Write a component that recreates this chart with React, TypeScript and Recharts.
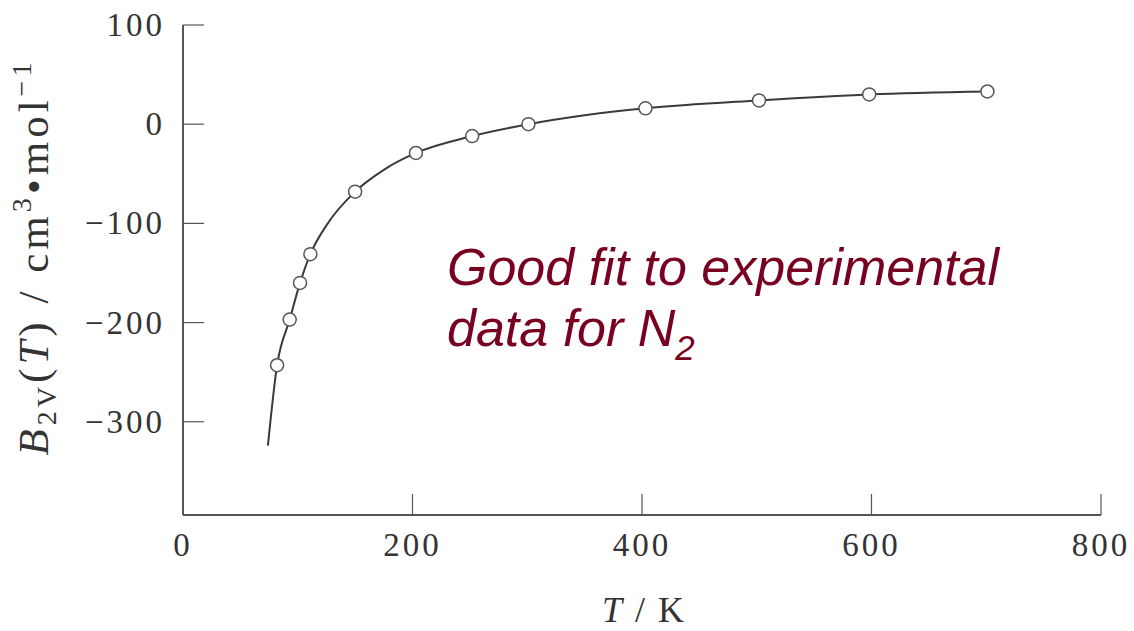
import React from "react";
import { ComposedChart, Line, Scatter, XAxis, YAxis } from "recharts";

// fitted curve
const fitT = [74, 82, 93, 102, 111, 125, 150, 175, 203, 252, 301, 350, 403, 502, 598, 701];
const fitB = [-324, -243, -197, -160, -131, -102, -68, -46, -29, -12, 0, 9, 16, 24, 30, 33];

// experimental points for N2
const expT = [82, 93, 102, 111, 150, 203, 252, 301, 403, 502, 598, 701];
const expB = [-243, -197, -160, -131, -68, -29, -12, 0, 16, 24, 30, 33];

const xTicks = [0, 200, 400, 600, 800];
const yTicks = [100, 0, -100, -200, -300];

const fitData = fitT.map((T, i) => ({ T, B: fitB[i] }));
const expData = expT.map((T, i) => ({ T, B: expB[i] }));

const SERIF = "'Liberation Serif', 'DejaVu Serif', serif";
const SANS = "'Liberation Sans', Arial, sans-serif";
const AXIS = "#555";
const TEXT = "#333";

function YTick(props: any) {
  const { x, y, payload } = props;
  const label = payload.value < 0 ? `\u2212${-payload.value}` : `${payload.value}`;
  return (
    <g>
      <line x1={x + 18} x2={x + 39} y1={y} y2={y} stroke={AXIS} strokeWidth={1.2} />
      <text x={x} y={y + 11} textAnchor="end" fontFamily={SERIF} fontSize={33} fill={TEXT} letterSpacing={3}>
        {label}
      </text>
    </g>
  );
}

function XTick(props: any) {
  const { x, y, payload } = props;
  return (
    <g>
      {payload.value !== 0 && (
        <line x1={x} x2={x} y1={y - 18} y2={y - 39} stroke={AXIS} strokeWidth={1.2} />
      )}
      <text x={x} y={y + 23} textAnchor="middle" fontFamily={SERIF} fontSize={33} fill={TEXT} letterSpacing={3}>
        {payload.value}
      </text>
    </g>
  );
}

const dot = (props: any) => (
  <circle cx={props.cx} cy={props.cy} r={6.5} fill="#fff" stroke="#555" strokeWidth={1.5} />
);

export default function App() {
  return (
    <div style={{ position: "absolute", left: 0, top: 0, width: 1134, height: 631, background: "#fff" }}>
      <ComposedChart width={1134} height={631} margin={{ top: 25, right: 33, left: 103, bottom: 76 }}>
        <XAxis
          type="number"
          dataKey="T"
          domain={[0, 800]}
          ticks={xTicks}
          height={40}
          tickLine={false}
          tickSize={0}
          tickMargin={18}
          tick={<XTick />}
          axisLine={{ stroke: AXIS, strokeWidth: 2 }}
          allowDataOverflow
        />
        <YAxis
          type="number"
          dataKey="B"
          domain={[-394, 100]}
          ticks={yTicks}
          width={80}
          tickLine={false}
          tickSize={0}
          tickMargin={18}
          tick={<YTick />}
          axisLine={{ stroke: AXIS, strokeWidth: 2 }}
          allowDataOverflow
        />
        <Line
          data={fitData}
          dataKey="B"
          type="monotone"
          stroke="#3a3a3a"
          strokeWidth={2}
          dot={false}
          activeDot={false}
          isAnimationActive={false}
        />
        <Scatter data={expData} dataKey="B" shape={dot} isAnimationActive={false} />
      </ComposedChart>
      <svg width={1134} height={631} style={{ position: "absolute", left: 0, top: 0, pointerEvents: "none" }}>
        <text
          x={48}
          y={257}
          transform="rotate(-90 48 257)"
          textAnchor="middle"
          fontFamily={SERIF}
          fontSize={43}
          fill={TEXT}
          letterSpacing={4}
        >
          <tspan fontStyle="italic">B</tspan>
          <tspan fontSize={28} dy={8}>2V</tspan>
          <tspan dy={-8}>(</tspan>
          <tspan fontStyle="italic">T</tspan>
          <tspan>) / cm</tspan>
          <tspan fontSize={28} dy={-17}>3</tspan>
          <tspan dy={17}>•mol</tspan>
          <tspan fontSize={28} dy={-17}>−1</tspan>
        </text>
        <text x={644} y={622} textAnchor="middle" fontFamily={SERIF} fontSize={36} fill={TEXT} letterSpacing={2}>
          <tspan fontStyle="italic">T</tspan>
          <tspan> / K</tspan>
        </text>
        <text x={447} y={285} fontFamily={SANS} fontStyle="italic" fontSize={52} fill="#780020">
          Good fit to experimental
        </text>
        <text x={447} y={346} fontFamily={SANS} fontStyle="italic" fontSize={52} fill="#780020">
          data for N<tspan fontSize={35} dy={14}>2</tspan>
        </text>
      </svg>
    </div>
  );
}
